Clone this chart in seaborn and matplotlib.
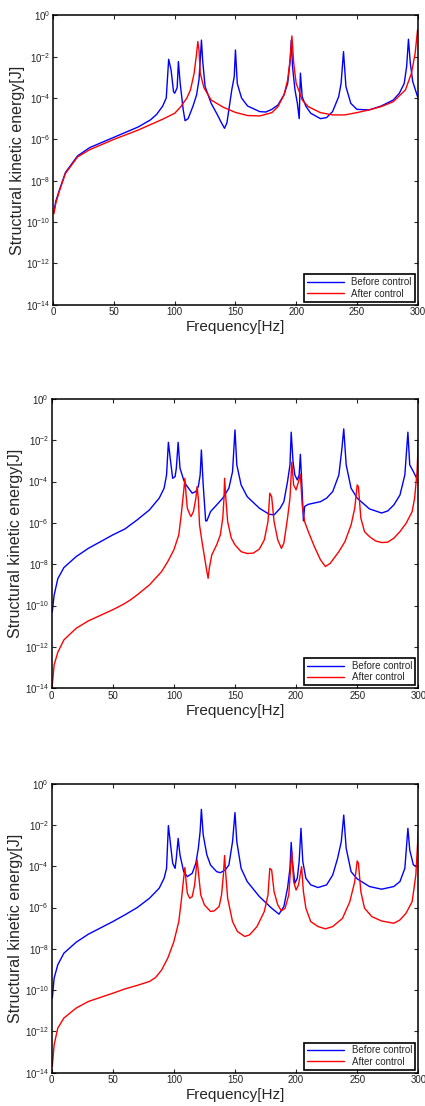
import numpy as np
import pandas as pd
import matplotlib
matplotlib.use("Agg")
import matplotlib.pyplot as plt
import seaborn as sns

# Values, stored as log10 of energy [J]
# Panel 1
p1_before_f = [0.5, 2, 5, 10, 20, 30, 50, 70, 80, 85, 90, 93, 95, 97, 99, 100, 102, 103, 104.5,
               107, 108.5, 111, 115, 118, 120, 122, 123, 125, 130, 135, 138, 141, 143, 145, 147,
               149, 150, 151.5, 155, 160, 170, 175, 180, 185, 190, 193, 195, 196, 197, 199, 201,
               202.5, 203.5, 205, 208, 212, 220, 225, 230, 235, 237, 239, 241, 245, 250, 260,
               270, 280, 285, 289, 291, 292.5, 294, 296, 300]
p1_before_e = [-9.5, -9.0, -8.45, -7.6, -6.8, -6.4, -5.9, -5.4, -5.06, -4.8, -4.4, -4.0, -2.13,
               -2.65, -3.7, -3.77, -3.5, -2.24, -3.3, -4.58, -5.1, -5.0, -4.4, -3.85, -3.1, -1.2,
               -2.2, -3.45, -4.26, -4.8, -5.15, -5.47, -5.2, -4.4, -3.6, -2.97, -1.68, -3.3, -4.0,
               -4.39, -4.66, -4.68, -4.55, -4.34, -3.85, -3.3, -2.24, -1.2, -2.48, -3.6, -4.26,
               -5.0, -2.8, -3.95, -4.4, -4.74, -5.0, -4.95, -4.66, -3.94, -3.3, -1.76, -3.45,
               -4.26, -4.55, -4.58, -4.39, -4.1, -3.77, -3.3, -2.48, -1.16, -2.3, -3.2, -3.94]
p1_after_f = [0.5, 2, 5, 10, 20, 30, 50, 70, 90, 100, 105, 110, 113, 116, 118, 119, 120, 121,
              124, 130, 140, 150, 160, 170, 180, 185, 190, 193, 195, 196.5, 198, 200, 203, 205,
              210, 220, 230, 240, 250, 260, 270, 280, 290, 295, 298, 300]
p1_after_e = [-9.6, -9.1, -8.5, -7.65, -6.85, -6.5, -6.0, -5.55, -5.03, -4.74, -4.42, -4.0, -3.6,
              -2.8, -1.84, -1.27, -1.7, -2.8, -3.5, -4.1, -4.45, -4.7, -4.85, -4.87, -4.71, -4.42,
              -3.85, -3.13, -2.16, -1.0, -2.32, -3.29, -3.77, -4.1, -4.42, -4.71, -4.82, -4.82,
              -4.71, -4.58, -4.42, -4.18, -3.61, -2.8, -1.84, -0.7]

# Panel 2
p2_before_f = [0.5, 2, 5, 10, 20, 30, 50, 60, 70, 80, 88, 92, 94, 95.5, 97, 99, 101, 102, 103.5,
               105, 108, 110, 115, 118, 120, 121.5, 122.5, 124, 126, 127, 130, 135, 140, 145, 148,
               150, 151.5, 155, 160, 170, 178, 182, 187, 190, 193, 195, 196, 197.5, 199, 201,
               202.5, 203.5, 205, 206, 207, 210, 220, 225, 230, 235, 237.5, 239, 241, 245, 250,
               260, 270, 275, 280, 285, 289, 291.5, 293, 296, 300]
p2_before_e = [-10.3, -9.5, -8.7, -8.16, -7.63, -7.23, -6.58, -6.29, -5.85, -5.37, -4.8, -4.32,
               -3.68, -2.1, -2.87, -3.84, -3.76, -3.35, -2.1, -3.35, -3.92, -4.16, -4.56, -4.48,
               -4.24, -3.68, -2.47, -4.16, -5.9, -5.9, -5.45, -5.13, -4.8, -4.32, -3.52, -1.5,
               -3.19, -4.16, -4.73, -5.29, -5.58, -5.61, -5.29, -4.97, -4.0, -3.19, -1.61, -3.03,
               -3.68, -3.92, -3.68, -2.68, -4.48, -5.9, -5.2, -5.1, -4.97, -4.8, -4.48, -3.68,
               -2.4, -1.45, -3.19, -4.32, -4.8, -5.32, -5.52, -5.42, -5.13, -4.65, -3.68, -1.61,
               -3.19, -3.52, -4.0]
p2_after_f = [0.5, 2, 5, 10, 20, 30, 50, 55, 60, 65, 70, 80, 90, 95, 100, 104, 106, 108, 109,
              110, 111, 113, 114, 116, 118, 119, 120, 121, 123, 125, 127, 128, 129, 131, 135, 138,
              140, 141, 141.5, 142.5, 144, 147, 150, 155, 160, 165, 170, 174, 177, 178.5, 180,
              182, 185, 188, 190, 193, 195, 196.5, 198, 200, 202, 203.5, 205, 207, 210, 215, 220,
              224, 228, 235, 240, 245, 248, 250, 251, 253, 256, 260, 265, 270, 275, 280, 285,
              290, 295, 297, 299, 300]
p2_after_e = [-13.84, -12.87, -12.26, -11.66, -11.1, -10.74, -10.2, -10.05, -9.89, -9.7, -9.48,
              -9.0, -8.35, -7.87, -7.3, -6.58, -5.61, -4.48, -3.84, -4.65, -5.29, -5.58, -5.69,
              -5.45, -4.8, -4.24, -4.8, -6.1, -6.9, -7.63, -8.35, -8.68, -8.19, -7.55, -7.06,
              -6.58, -5.77, -4.8, -3.84, -4.8, -5.94, -6.74, -7.06, -7.39, -7.48, -7.46, -7.26,
              -6.82, -5.94, -4.56, -4.73, -5.94, -6.82, -7.23, -6.98, -5.77, -4.8, -3.06, -4.16,
              -4.4, -4.0, -3.65, -5.13, -5.94, -6.42, -7.15, -7.79, -8.11, -7.95, -7.39, -6.9,
              -6.1, -5.29, -4.16, -4.25, -5.77, -6.42, -6.66, -6.87, -6.95, -6.93, -6.74, -6.42,
              -6.02, -5.45, -4.8, -3.52, -2.06]

# Panel 3
p3_before_f = [0.5, 2, 5, 10, 20, 30, 50, 60, 70, 80, 88, 92, 94, 95.5, 97, 99, 101, 102, 103.5,
               105, 108, 111, 115, 118, 120, 121.5, 122.5, 124, 127, 130, 135, 138, 142, 145, 148,
               150, 151.5, 155, 160, 170, 180, 186, 190, 193, 195, 196, 197, 199, 201, 202.5, 204,
               205.5, 208, 212, 218, 225, 230, 234, 237, 239, 241, 245, 250, 260, 270, 280, 285,
               289, 291.5, 293, 296, 300]
p3_before_e = [-10.4, -9.42, -8.77, -8.21, -7.68, -7.29, -6.68, -6.35, -6.0, -5.55, -5.06, -4.58,
               -4.1, -2.03, -2.81, -3.85, -4.1, -3.61, -2.65, -3.45, -4.26, -4.5, -4.34, -3.85,
               -3.13, -2.3, -1.24, -2.48, -3.45, -3.94, -4.26, -4.31, -4.18, -3.94, -2.81, -1.4,
               -2.81, -4.1, -4.74, -5.47, -6.03, -6.32, -5.95, -5.06, -4.1, -2.84, -3.77, -4.82,
               -4.58, -3.77, -2.16, -3.77, -4.58, -4.9, -5.03, -4.9, -4.42, -3.61, -2.8, -1.52,
               -3.13, -4.26, -4.61, -4.98, -5.11, -4.98, -4.74, -4.1, -2.16, -3.21, -3.94, -4.02]
p3_after_f = [0.5, 2, 5, 10, 20, 30, 50, 60, 70, 80, 85, 90, 95, 100, 104, 106, 108, 109, 110,
              111, 113, 115, 117, 119, 120, 122, 125, 130, 133, 137, 139, 140.5, 141.5, 142.5,
              144, 148, 152, 158, 162, 168, 174, 177, 178.5, 180, 182, 185, 188, 191, 194, 196.5,
              198, 200, 202, 204.5, 206, 208, 212, 218, 224, 230, 238, 244, 248, 250, 251, 253,
              256, 262, 270, 280, 285, 290, 295, 298, 300]
p3_after_e = [-13.7, -12.65, -11.84, -11.35, -10.87, -10.55, -10.15, -9.94, -9.77, -9.58, -9.39,
              -9.02, -8.45, -7.65, -6.68, -5.71, -4.58, -4.06, -4.74, -5.31, -5.55, -5.47, -4.9,
              -3.69, -4.26, -5.39, -5.87, -6.19, -6.16, -5.95, -5.39, -4.42, -3.48, -4.42, -5.55,
              -6.68, -7.16, -7.4, -7.32, -6.92, -6.19, -5.39, -4.1, -4.18, -5.23, -5.87, -6.16,
              -6.03, -5.39, -3.29, -4.74, -5.15, -4.9, -4.02, -5.23, -6.03, -6.68, -6.92, -7.03,
              -6.92, -6.52, -5.71, -4.74, -3.74, -3.85, -5.23, -6.03, -6.44, -6.65, -6.76, -6.6,
              -6.27, -5.71, -4.42, -2.32]

panels = [
    (p1_before_f, p1_before_e, p1_after_f, p1_after_e),
    (p2_before_f, p2_before_e, p2_after_f, p2_after_e),
    (p3_before_f, p3_before_e, p3_after_f, p3_after_e),
]

# axes boxes [left, bottom, width, height] in figure fraction
boxes = [
    [0.1255, 0.7245, 0.857, 0.2617],
    [0.1216, 0.3777, 0.8626, 0.2616],
    [0.1216, 0.0301, 0.8626, 0.2613],
]

sns.set_style("ticks")
plt.rcParams['font.family'] = ['Liberation Sans', 'DejaVu Sans']
plt.rcParams['mathtext.default'] = 'regular'

fig = plt.figure(figsize=(4.25, 11.06), dpi=100)

for (bf, be, af, ae), box in zip(panels, boxes):
    ax = fig.add_axes(box)
    df = pd.concat([
        pd.DataFrame({'freq': bf, 'energy': 10.0 ** np.array(be), 'case': 'Before control'}),
        pd.DataFrame({'freq': af, 'energy': 10.0 ** np.array(ae), 'case': 'After control'}),
    ])
    sns.lineplot(data=df, x='freq', y='energy', hue='case', ax=ax,
                 palette={'Before control': '#0000ff', 'After control': '#ff0000'},
                 linewidth=1.0, sort=False, estimator=None)
    ax.set_yscale('log')
    ax.set_xlim(0, 300)
    ax.set_ylim(1e-14, 1e0)
    ax.set_yticks([10.0 ** k for k in range(-14, 1, 2)])
    ax.minorticks_off()
    ax.set_xticks([0, 50, 100, 150, 200, 250, 300])
    ax.tick_params(direction='in', length=3, width=0.8, labelsize=7,
                   top=True, right=True, pad=2, labelcolor='#222222')
    for s in ax.spines.values():
        s.set_linewidth(1.1)
        s.set_color('black')
    ax.set_xlabel('Frequency[Hz]', fontsize=11, labelpad=2)
    ax.set_ylabel('Structural kinetic energy[J]', fontsize=11.5, labelpad=1)
    leg = ax.legend(loc='lower right', fontsize=7, frameon=True, fancybox=False,
                    edgecolor='black', framealpha=1, handlelength=3.8,
                    borderaxespad=0.3, borderpad=0.3, labelspacing=0.15)
    leg.get_frame().set_linewidth(1.2)
    leg.set_title(None)

fig.savefig('out.png', dpi=100)
